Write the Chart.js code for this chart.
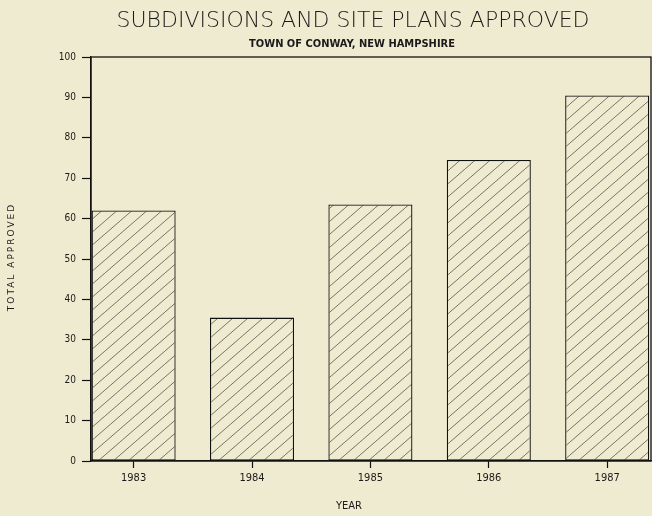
<!DOCTYPE html>
<html>
<head>
<meta charset="utf-8">
<script src="https://cdn.jsdelivr.net/npm/chart.js@4"></script>
<style>
  html, body { margin: 0; padding: 0; background: #efebd0; }
  canvas { display: block; }
</style>
</head>
<body>
<canvas id="grafik" width="652" height="516"></canvas>
<script>
// data
const tahun = ['1983', '1984', '1985', '1986', '1987'];
const jumlahDisetujui = [62, 35.5, 63.5, 74.5, 90.5];
const tickY = [0, 10, 20, 30, 40, 50, 60, 70, 80, 90, 100];

const judul = 'SUBDIVISIONS AND SITE PLANS APPROVED';
const subJudul = 'TOWN OF CONWAY, NEW HAMPSHIRE';
const judulX = 'YEAR';
const judulY = 'TOTAL APPROVED';

// pola arsiran garis miring
function buatArsiran() {
  const c = document.createElement('canvas');
  c.width = 15;
  c.height = 13;
  const g = c.getContext('2d');
  g.fillStyle = '#efebd0';
  g.fillRect(0, 0, 15, 13);
  g.strokeStyle = '#55554c';
  g.lineWidth = 0.8;
  g.beginPath();
  g.moveTo(0, 13);
  g.lineTo(15, 0);
  g.stroke();
  return g.createPattern(c, 'repeat');
}

// latar, bingkai dan teks judul
const pluginBingkai = {
  id: 'bingkai',
  beforeDraw(chart) {
    const ctx = chart.ctx;
    ctx.save();
    ctx.fillStyle = '#efebd0';
    ctx.fillRect(0, 0, chart.width, chart.height);
    ctx.restore();
  },
  afterDraw(chart) {
    const ctx = chart.ctx;
    const a = chart.chartArea;
    ctx.save();
    ctx.strokeStyle = '#111';
    ctx.lineWidth = 1.3;
    ctx.strokeRect(a.left, a.top, a.right - a.left, a.bottom - a.top);

    ctx.fillStyle = '#1a1a1a';
    ctx.textAlign = 'center';
    ctx.textBaseline = 'middle';
    ctx.font = '300 22px "DejaVu Sans"';
    ctx.fillText(judul, 353, 21);
    ctx.font = 'bold 11px "DejaVu Sans Condensed", "DejaVu Sans"';
    ctx.fillText(subJudul, 352, 44);
    ctx.font = '11px "DejaVu Sans Condensed", "DejaVu Sans"';
    ctx.fillText(judulX, 349, 506);

    ctx.translate(12, 257);
    ctx.rotate(-Math.PI / 2);
    ctx.font = '9px "DejaVu Sans"';
    ctx.letterSpacing = '2px';
    ctx.fillText(judulY, 0, 0);
    ctx.restore();
  }
};

const ctx = document.getElementById('grafik').getContext('2d');

window.grafik = new Chart(ctx, {
  type: 'bar',
  data: {
    datasets: [{
      label: judulY,
      data: tahun.map((t, i) => ({ x: Number(t), y: jumlahDisetujui[i] })),
      backgroundColor: buatArsiran(),
      borderColor: '#111',
      borderWidth: 1.3,
      borderSkipped: false,
      barPercentage: 0.71,
      categoryPercentage: 1
    }]
  },
  options: {
    responsive: false,
    animation: false,
    layout: {
      padding: { top: 57, right: 1, left: 0, bottom: 0 }
    },
    plugins: {
      legend: { display: false },
      title: { display: false },
      tooltip: { enabled: false }
    },
    scales: {
      x: {
        type: 'linear',
        offset: false,
        min: 1982.64,
        max: 1987.37,
        afterFit(s) { s.height = 55; },
        border: { display: true, color: '#111', width: 1.3 },
        grid: {
          offset: false,
          drawOnChartArea: false,
          color: '#111',
          tickLength: 7,
          tickWidth: 1.2
        },
        ticks: {
          stepSize: 1,
          includeBounds: false,
          padding: 4,
          color: '#1a1a1a',
          font: { family: '"DejaVu Sans Condensed", "DejaVu Sans"', size: 11 },
          callback: v => String(v)
        }
      },
      y: {
        min: 0,
        max: 100,
        afterFit(s) { s.width = 91; },
        afterBuildTicks(s) { s.ticks = tickY.map(v => ({ value: v })); },
        border: { display: true, color: '#111', width: 1.3 },
        grid: {
          drawOnChartArea: false,
          color: '#111',
          tickLength: 9,
          tickWidth: 1.2
        },
        ticks: {
          padding: 6,
          color: '#1a1a1a',
          font: { family: '"DejaVu Sans Condensed", "DejaVu Sans"', size: 10 }
        }
      }
    }
  },
  plugins: [pluginBingkai]
});
</script>
</body>
</html>
